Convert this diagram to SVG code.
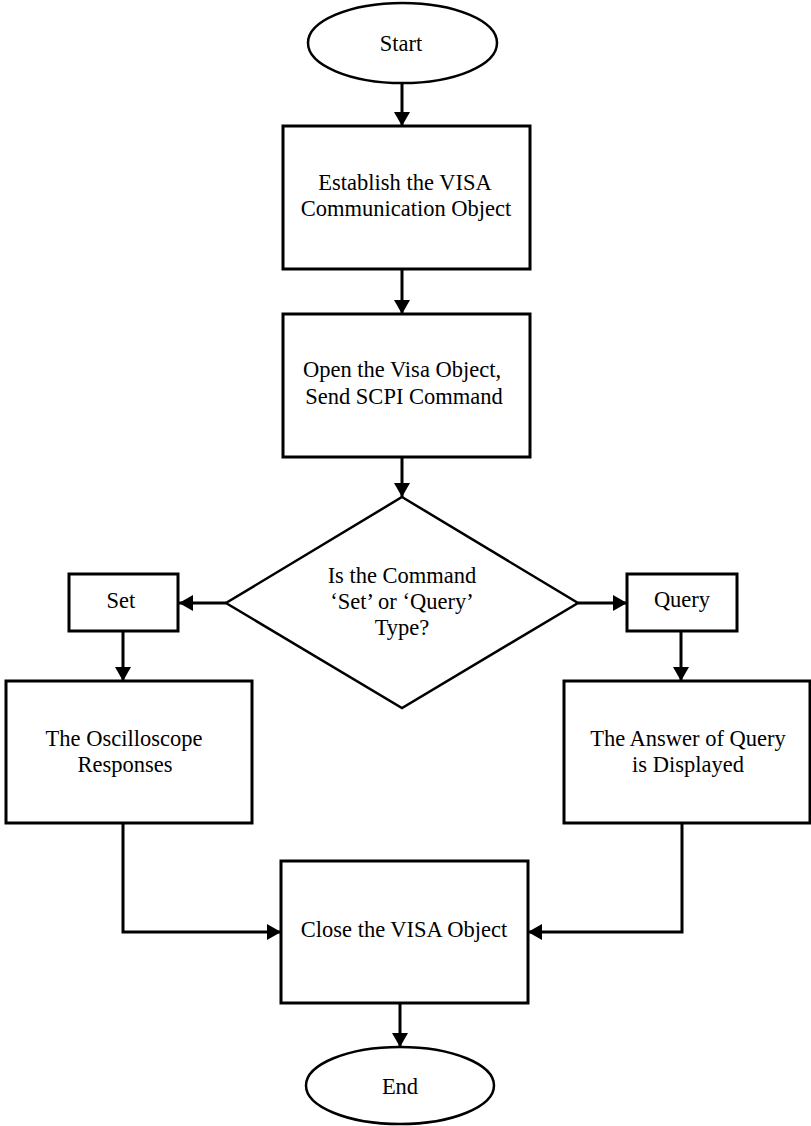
<svg xmlns="http://www.w3.org/2000/svg" width="811" height="1126" viewBox="0 0 811 1126">
  <style>
    .shape { fill: #ffffff; stroke: #000000; stroke-width: 3; }
    .term { fill: #ffffff; stroke: #000000; stroke-width: 2.5; }
    .dec { fill: #ffffff; stroke: #000000; stroke-width: 2.5; }
    .label { font-family: "Liberation Serif", "Times New Roman", serif; font-size: 22.5px; fill: #000000; text-anchor: middle; }
    .conn { fill: none; stroke: #000000; stroke-width: 3; }
  </style>
  <defs>
    <marker id="arrow" markerUnits="userSpaceOnUse" markerWidth="16" markerHeight="16" viewBox="0 0 14 16" refX="14" refY="8" orient="auto">
      <path d="M0,0 L14,8 L0,16 z" fill="#000000"/>
    </marker>
  </defs>
  <rect width="811" height="1126" fill="#ffffff"/>

  <!-- connectors -->
  <g id="connectors">
    <line class="conn" x1="402" y1="83" x2="402" y2="126" marker-end="url(#arrow)"/>
    <line class="conn" x1="402" y1="269" x2="402" y2="314" marker-end="url(#arrow)"/>
    <line class="conn" x1="402" y1="457" x2="402" y2="497" marker-end="url(#arrow)"/>
    <line class="conn" x1="226" y1="603" x2="179" y2="603" marker-end="url(#arrow)"/>
    <line class="conn" x1="578" y1="603" x2="627" y2="603" marker-end="url(#arrow)"/>
    <line class="conn" x1="123" y1="631" x2="123" y2="681" marker-end="url(#arrow)"/>
    <line class="conn" x1="681" y1="631" x2="681" y2="681" marker-end="url(#arrow)"/>
    <polyline class="conn" points="123,823 123,932 281,932" marker-end="url(#arrow)"/>
    <polyline class="conn" points="682,823 682,932 528,932" marker-end="url(#arrow)"/>
    <line class="conn" x1="400" y1="1003" x2="400" y2="1047" marker-end="url(#arrow)"/>
  </g>

  <g id="start">
    <ellipse class="term" cx="402.5" cy="43" rx="94.5" ry="40"/>
    <text class="label" x="401" y="51">Start</text>
  </g>

  <g id="establish">
    <rect class="shape" x="283" y="126" width="247" height="143"/>
    <text class="label" x="405" y="190">Establish the VISA</text>
    <text class="label" x="406" y="216">Communication Object</text>
  </g>

  <g id="open">
    <rect class="shape" x="283" y="314" width="247" height="143"/>
    <text class="label" x="402" y="377">Open the Visa Object,</text>
    <text class="label" x="404" y="404">Send SCPI Command</text>
  </g>

  <g id="decision">
    <polygon class="dec" points="402,497 578,603 402,708 226,603"/>
    <text class="label" x="402" y="583">Is the Command</text>
    <text class="label" x="402" y="609">‘Set’ or ‘Query’</text>
    <text class="label" x="402" y="635">Type?</text>
  </g>

  <g id="set">
    <rect class="shape" x="69" y="574" width="109" height="57"/>
    <text class="label" x="121" y="608">Set</text>
  </g>

  <g id="query">
    <rect class="shape" x="627" y="574" width="110" height="57"/>
    <text class="label" x="682" y="607">Query</text>
  </g>

  <g id="responses">
    <rect class="shape" x="6" y="681" width="246" height="142"/>
    <text class="label" x="124" y="746">The Oscilloscope</text>
    <text class="label" x="125" y="772">Responses</text>
  </g>

  <g id="answer">
    <rect class="shape" x="564" y="681" width="246" height="142"/>
    <text class="label" x="688" y="746">The Answer of Query</text>
    <text class="label" x="688" y="772">is Displayed</text>
  </g>

  <g id="close">
    <rect class="shape" x="281" y="861" width="247" height="142"/>
    <text class="label" x="404" y="937">Close the VISA Object</text>
  </g>

  <g id="end">
    <ellipse class="term" cx="400" cy="1085.5" rx="94" ry="38.5"/>
    <text class="label" x="400" y="1094">End</text>
  </g>
</svg>
